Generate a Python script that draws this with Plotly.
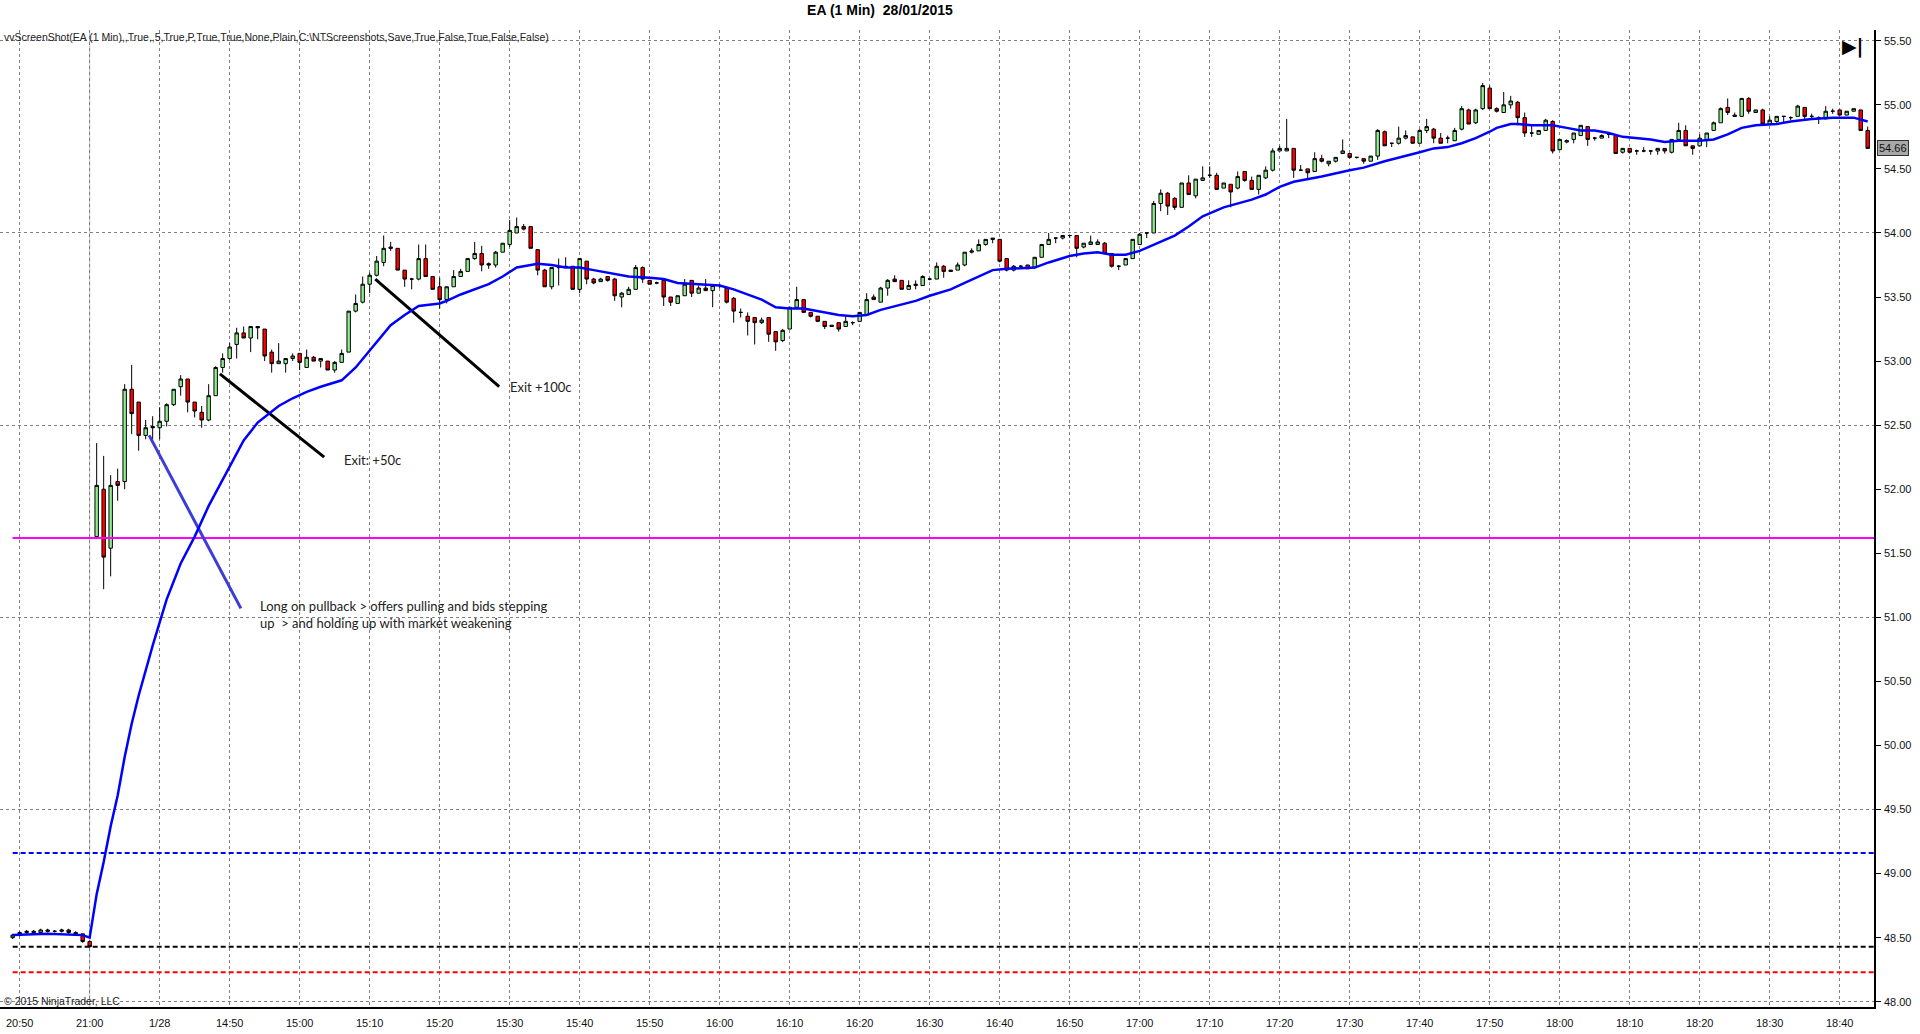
import pandas as pd
import plotly.graph_objects as go

# EA 1 min bars: tail of 27/01 session, then 28/01 from the open
bar_times = list(pd.date_range("2015-01-27 20:49", "2015-01-27 21:00", freq="min")) + \
    list(pd.date_range("2015-01-28 14:31", "2015-01-28 18:44", freq="min"))

opens = [
    48.50, 48.52, 48.54, 48.55, 48.54, 48.56, 48.55, 48.55, 48.56, 48.54, 48.53, 48.47,
    51.63, 52.00, 51.54, 52.06, 52.06, 52.78, 52.68, 52.42, 52.49, 52.48,
    52.53, 52.66, 52.80, 52.86, 52.68, 52.60, 52.54, 52.73, 52.95, 53.02,
    53.13, 53.22, 53.18, 53.27, 53.25, 53.07, 52.98, 52.98, 53.02, 53.06,
    52.95, 53.03, 53.00, 53.00, 52.93, 52.99, 53.07, 53.39, 53.46, 53.60,
    53.67, 53.77, 53.89, 53.88, 53.71, 53.64, 53.64, 53.80, 53.66, 53.58,
    53.48, 53.58, 53.66, 53.70, 53.80, 53.84, 53.76, 53.75, 53.85, 53.91,
    54.00, 54.05, 54.05, 53.87, 53.71, 53.58, 53.73, 53.73, 53.74, 53.56,
    53.78, 53.64, 53.62, 53.66, 53.64, 53.50, 53.52, 53.56, 53.73, 53.63,
    53.61, 53.63, 53.50, 53.45, 53.51, 53.63, 53.53, 53.57, 53.55, 53.59,
    53.57, 53.49, 53.38, 53.35, 53.34, 53.30, 53.34, 53.23, 53.16, 53.25,
    53.42, 53.48, 53.38, 53.35, 53.31, 53.28, 53.30, 53.27, 53.30, 53.31,
    53.36, 53.50, 53.46, 53.57, 53.64, 53.63, 53.56, 53.59, 53.59, 53.64,
    53.64, 53.74, 53.71, 53.71, 53.75, 53.85, 53.86, 53.91, 53.96, 53.95,
    53.80, 53.71, 53.74, 53.75, 53.73, 53.81, 53.91, 53.96, 53.96, 53.98,
    53.98, 53.89, 53.91, 53.91, 53.92, 53.84, 53.74, 53.75, 53.80, 53.91,
    54.00, 54.00, 54.23, 54.31, 54.27, 54.20, 54.39, 54.29, 54.41, 54.45,
    54.45, 54.35, 54.38, 54.35, 54.48, 54.41, 54.34, 54.43, 54.49, 54.64,
    54.64, 54.66, 54.49, 54.50, 54.48, 54.58, 54.54, 54.56, 54.62, 54.62,
    54.59, 54.58, 54.56, 54.60, 54.79, 54.70, 54.70, 54.74, 54.75, 54.70,
    54.80, 54.81, 54.74, 54.74, 54.72, 54.81, 54.96, 54.86, 54.97, 55.13,
    54.97, 54.94, 55.00, 55.02, 54.90, 54.78, 54.77, 54.80, 54.87, 54.65,
    54.71, 54.73, 54.76, 54.83, 54.74, 54.74, 54.77, 54.76, 54.63, 54.66,
    54.64, 54.64, 54.64, 54.64, 54.66, 54.63, 54.73, 54.80, 54.68, 54.68,
    54.73, 54.80, 54.86, 54.98, 54.92, 54.91, 55.05, 54.94, 54.96, 54.85,
    54.87, 54.91, 54.90, 54.91, 54.98, 54.91, 54.90, 54.89, 54.95, 54.96,
    54.92, 54.95, 54.96, 54.80,
]
highs = [
    48.53, 48.55, 48.56, 48.56, 48.57, 48.57, 48.56, 48.57, 48.57, 48.55, 48.53, 48.48,
    52.36, 52.26, 52.11, 52.16, 52.82, 52.97, 52.68, 52.54, 52.57, 52.64,
    52.67, 52.78, 52.89, 52.86, 52.68, 52.65, 52.82, 52.96, 53.06, 53.14,
    53.26, 53.27, 53.27, 53.27, 53.25, 53.09, 53.14, 53.02, 53.06, 53.06,
    53.09, 53.04, 53.02, 53.00, 53.00, 53.09, 53.39, 53.52, 53.66, 53.69,
    53.82, 53.98, 53.93, 53.88, 53.71, 53.65, 53.91, 53.91, 53.66, 53.65,
    53.58, 53.71, 53.72, 53.80, 53.93, 53.90, 53.77, 53.86, 53.92, 54.10,
    54.12, 54.07, 54.05, 53.87, 53.72, 53.73, 53.80, 53.81, 53.74, 53.80,
    53.78, 53.65, 53.65, 53.66, 53.65, 53.54, 53.58, 53.75, 53.74, 53.63,
    53.62, 53.63, 53.50, 53.51, 53.64, 53.63, 53.59, 53.64, 53.59, 53.60,
    53.58, 53.50, 53.41, 53.38, 53.34, 53.34, 53.34, 53.23, 53.25, 53.42,
    53.58, 53.48, 53.38, 53.35, 53.31, 53.28, 53.30, 53.35, 53.31, 53.38,
    53.53, 53.52, 53.58, 53.64, 53.67, 53.63, 53.63, 53.63, 53.67, 53.65,
    53.77, 53.75, 53.71, 53.77, 53.85, 53.88, 53.95, 53.95, 53.96, 53.95,
    53.80, 53.75, 53.75, 53.75, 53.81, 53.91, 54.00, 53.96, 53.98, 53.98,
    53.98, 53.92, 53.98, 53.95, 53.93, 53.84, 53.75, 53.80, 53.95, 54.00,
    54.00, 54.25, 54.34, 54.32, 54.28, 54.39, 54.45, 54.42, 54.52, 54.52,
    54.47, 54.39, 54.38, 54.48, 54.48, 54.44, 54.45, 54.52, 54.66, 54.68,
    54.89, 54.66, 54.53, 54.50, 54.63, 54.61, 54.56, 54.59, 54.73, 54.62,
    54.59, 54.58, 54.60, 54.81, 54.80, 54.70, 54.83, 54.80, 54.75, 54.81,
    54.89, 54.82, 54.78, 54.76, 54.82, 54.99, 54.97, 54.97, 55.17, 55.15,
    54.98, 55.10, 55.07, 55.03, 54.94, 54.85, 54.80, 54.89, 54.88, 54.73,
    54.73, 54.78, 54.84, 54.83, 54.75, 54.77, 54.77, 54.77, 54.66, 54.66,
    54.65, 54.67, 54.64, 54.66, 54.66, 54.73, 54.86, 54.84, 54.68, 54.77,
    54.78, 54.87, 54.98, 55.05, 54.94, 55.05, 55.06, 54.96, 54.97, 54.91,
    54.91, 54.91, 54.91, 55.00, 54.98, 54.93, 54.91, 54.99, 54.97, 54.96,
    54.95, 54.97, 54.96, 54.83,
]
lows = [
    48.49, 48.51, 48.53, 48.53, 48.54, 48.54, 48.54, 48.54, 48.53, 48.52, 48.46, 48.42,
    51.62, 51.22, 51.32, 51.91, 52.00, 52.43, 52.30, 52.39, 52.39, 52.39,
    52.49, 52.65, 52.73, 52.60, 52.56, 52.48, 52.53, 52.73, 52.91, 53.01,
    53.02, 53.18, 53.07, 53.17, 53.00, 52.91, 52.98, 52.91, 53.00, 52.93,
    52.95, 53.00, 52.95, 52.93, 52.91, 52.99, 53.07, 53.38, 53.45, 53.53,
    53.66, 53.74, 53.86, 53.71, 53.58, 53.56, 53.63, 53.66, 53.56, 53.41,
    53.45, 53.58, 53.66, 53.70, 53.79, 53.70, 53.72, 53.73, 53.85, 53.89,
    54.00, 54.02, 53.88, 53.67, 53.58, 53.56, 53.59, 53.73, 53.56, 53.53,
    53.60, 53.60, 53.62, 53.62, 53.47, 53.42, 53.52, 53.56, 53.61, 53.60,
    53.60, 53.43, 53.43, 53.45, 53.51, 53.50, 53.53, 53.55, 53.42, 53.57,
    53.45, 53.30, 53.34, 53.20, 53.13, 53.29, 53.15, 53.08, 53.15, 53.25,
    53.42, 53.38, 53.34, 53.31, 53.25, 53.27, 53.23, 53.27, 53.28, 53.31,
    53.36, 53.48, 53.46, 53.51, 53.62, 53.56, 53.56, 53.56, 53.59, 53.63,
    53.64, 53.65, 53.70, 53.71, 53.74, 53.84, 53.86, 53.90, 53.92, 53.77,
    53.70, 53.70, 53.72, 53.72, 53.72, 53.81, 53.91, 53.92, 53.95, 53.96,
    53.81, 53.88, 53.91, 53.91, 53.84, 53.73, 53.71, 53.75, 53.80, 53.91,
    53.96, 54.00, 54.17, 54.14, 54.18, 54.20, 54.30, 54.27, 54.41, 54.43,
    54.34, 54.35, 54.20, 54.34, 54.40, 54.34, 54.30, 54.42, 54.48, 54.64,
    54.64, 54.43, 54.49, 54.42, 54.48, 54.55, 54.52, 54.55, 54.62, 54.58,
    54.58, 54.54, 54.56, 54.57, 54.68, 54.67, 54.69, 54.73, 54.70, 54.70,
    54.78, 54.70, 54.70, 54.70, 54.72, 54.80, 54.85, 54.85, 54.96, 54.97,
    54.94, 54.94, 54.97, 54.84, 54.75, 54.75, 54.77, 54.80, 54.62, 54.65,
    54.70, 54.70, 54.76, 54.68, 54.72, 54.74, 54.74, 54.62, 54.62, 54.62,
    54.61, 54.63, 54.61, 54.61, 54.62, 54.62, 54.73, 54.68, 54.61, 54.68,
    54.67, 54.80, 54.86, 54.92, 54.91, 54.91, 54.93, 54.94, 54.85, 54.85,
    54.86, 54.86, 54.88, 54.91, 54.88, 54.89, 54.85, 54.89, 54.93, 54.92,
    54.92, 54.95, 54.80, 54.66,
]
closes = [
    48.52, 48.54, 48.55, 48.54, 48.56, 48.55, 48.55, 48.56, 48.54, 48.53, 48.47, 48.43,
    52.03, 51.47, 52.03, 52.03, 52.78, 52.59, 52.42, 52.48, 52.48, 52.53,
    52.66, 52.78, 52.86, 52.68, 52.61, 52.54, 52.73, 52.95, 53.02, 53.11,
    53.22, 53.18, 53.27, 53.26, 53.04, 52.98, 53.00, 53.02, 53.04, 52.99,
    53.03, 53.00, 53.02, 52.93, 52.99, 53.06, 53.39, 53.45, 53.60, 53.67,
    53.78, 53.88, 53.88, 53.71, 53.64, 53.64, 53.80, 53.66, 53.56, 53.48,
    53.58, 53.66, 53.70, 53.80, 53.84, 53.75, 53.75, 53.85, 53.92, 54.02,
    54.05, 54.03, 53.88, 53.71, 53.58, 53.73, 53.73, 53.74, 53.56, 53.80,
    53.64, 53.61, 53.64, 53.63, 53.51, 53.53, 53.56, 53.73, 53.64, 53.60,
    53.61, 53.50, 53.46, 53.51, 53.60, 53.53, 53.57, 53.55, 53.59, 53.59,
    53.46, 53.39, 53.38, 53.31, 53.30, 53.32, 53.21, 53.15, 53.24, 53.42,
    53.48, 53.38, 53.35, 53.31, 53.27, 53.27, 53.25, 53.31, 53.30, 53.38,
    53.48, 53.48, 53.57, 53.63, 53.62, 53.56, 53.59, 53.60, 53.66, 53.64,
    53.74, 53.70, 53.70, 53.75, 53.85, 53.86, 53.91, 53.95, 53.95, 53.78,
    53.71, 53.74, 53.74, 53.72, 53.81, 53.91, 53.95, 53.96, 53.98, 53.98,
    53.88, 53.92, 53.93, 53.93, 53.84, 53.74, 53.74, 53.80, 53.95, 53.99,
    54.00, 54.23, 54.31, 54.21, 54.20, 54.39, 54.30, 54.42, 54.43, 54.45,
    54.34, 54.39, 54.32, 54.44, 54.41, 54.34, 54.45, 54.49, 54.64, 54.66,
    54.66, 54.49, 54.49, 54.47, 54.58, 54.56, 54.56, 54.59, 54.64, 54.59,
    54.59, 54.56, 54.60, 54.80, 54.68, 54.70, 54.74, 54.76, 54.70, 54.80,
    54.83, 54.74, 54.70, 54.74, 54.80, 54.97, 54.85, 54.96, 55.15, 54.97,
    54.95, 55.00, 55.03, 54.90, 54.78, 54.78, 54.80, 54.88, 54.64, 54.73,
    54.72, 54.78, 54.84, 54.73, 54.74, 54.76, 54.77, 54.62, 54.66, 54.63,
    54.64, 54.64, 54.64, 54.66, 54.64, 54.73, 54.80, 54.68, 54.66, 54.74,
    54.78, 54.86, 54.97, 54.94, 54.91, 55.05, 54.95, 54.96, 54.85, 54.88,
    54.91, 54.91, 54.90, 54.99, 54.91, 54.91, 54.90, 54.95, 54.95, 54.92,
    54.95, 54.97, 54.80, 54.66,
]

# moving average line (bar number, value)
ma_bar = [0, 5, 10, 11, 12, 13, 14, 15, 16, 17, 18, 19, 20, 21, 22, 24, 26, 28, 31, 33,
          35, 38, 40, 42, 44, 47, 49, 51, 54, 56, 58, 61, 62, 64, 66, 68, 70, 72, 75, 77,
          79, 81, 83, 85, 88, 91, 93, 95, 98, 101, 103, 105, 107, 109, 111, 113, 116, 118, 120, 122,
          124, 126, 129, 131, 134, 136, 138, 140, 142, 146, 148, 151, 153, 155, 157, 159, 161, 163, 166, 168,
          170, 173, 175, 177, 179, 181, 183, 185, 187, 191, 193, 196, 199, 201, 203, 205, 207, 209, 211, 212,
          214, 215, 217, 220, 222, 224, 226, 228, 230, 232, 234, 236, 238, 241, 243, 245, 247, 249, 252, 254,
          257, 260, 263, 265]
ma_value = [48.52, 48.53, 48.52, 48.50, 48.84, 49.09, 49.37, 49.61, 49.91, 50.17, 50.39, 50.59, 50.78, 50.96, 51.14, 51.42, 51.63, 51.87, 52.18, 52.38,
            52.52, 52.65, 52.71, 52.76, 52.80, 52.85, 52.95, 53.08, 53.28, 53.36, 53.43, 53.45, 53.47, 53.52, 53.56, 53.60, 53.66, 53.73, 53.76, 53.75,
            53.73, 53.73, 53.71, 53.69, 53.66, 53.65, 53.64, 53.61, 53.60, 53.59, 53.56, 53.52, 53.48, 53.42, 53.41, 53.41, 53.38, 53.36, 53.35, 53.36,
            53.40, 53.43, 53.47, 53.51, 53.56, 53.61, 53.66, 53.71, 53.72, 53.73, 53.77, 53.82, 53.84, 53.85, 53.83, 53.83, 53.86, 53.91, 53.98, 54.05,
            54.13, 54.20, 54.23, 54.26, 54.30, 54.36, 54.40, 54.42, 54.44, 54.49, 54.51, 54.56, 54.60, 54.63, 54.66, 54.67, 54.70, 54.74, 54.79, 54.82,
            54.85, 54.85, 54.84, 54.84, 54.82, 54.80, 54.80, 54.78, 54.75, 54.74, 54.73, 54.71, 54.72, 54.72, 54.73, 54.77, 54.82, 54.84, 54.85, 54.87,
            54.89, 54.90, 54.90, 54.87]

tick_stamps = ["2015-01-27 20:50", "2015-01-27 21:00", "2015-01-28 14:40", "2015-01-28 14:50",
               "2015-01-28 15:00", "2015-01-28 15:10", "2015-01-28 15:20", "2015-01-28 15:30",
               "2015-01-28 15:40", "2015-01-28 15:50", "2015-01-28 16:00", "2015-01-28 16:10",
               "2015-01-28 16:20", "2015-01-28 16:30", "2015-01-28 16:40", "2015-01-28 16:50",
               "2015-01-28 17:00", "2015-01-28 17:10", "2015-01-28 17:20", "2015-01-28 17:30",
               "2015-01-28 17:40", "2015-01-28 17:50", "2015-01-28 18:00", "2015-01-28 18:10",
               "2015-01-28 18:20", "2015-01-28 18:30", "2015-01-28 18:40"]
tick_labels = ["20:50", "21:00", "1/28", "14:50", "15:00", "15:10", "15:20", "15:30", "15:40",
               "15:50", "16:00", "16:10", "16:20", "16:30", "16:40", "16:50", "17:00", "17:10",
               "17:20", "17:30", "17:40", "17:50", "18:00", "18:10", "18:20", "18:30", "18:40"]

# horizontal price levels drawn on the chart
level_values = [51.62, 49.16, 48.43, 48.23]
level_colors = ["#FF00FF", "#0000FF", "#000000", "#FF0000"]
level_dash = ["solid", "5px,3px", "5px,3px", "5px,3px"]

bar_x = list(range(len(bar_times)))
tick_x = [bar_times.index(pd.Timestamp(s)) for s in tick_stamps]
session_break = bar_times.index(pd.Timestamp("2015-01-27 21:00"))

x_range = [-1.81, 265.9]
y_range = [47.959, 55.584]

font_axis = dict(family="Liberation Sans", size=11, color="#111111")
font_note = dict(family="Lato", size=13, color="#222222")

fig = go.Figure()

fig.add_trace(go.Candlestick(
    x=bar_x, open=opens, high=highs, low=lows, close=closes,
    increasing=dict(fillcolor="#90EE90", line=dict(color="black", width=1)),
    decreasing=dict(fillcolor="#FF0000", line=dict(color="black", width=1)),
    whiskerwidth=0, hoverinfo="skip"))

for val, col, dash in zip(level_values, level_colors, level_dash):
    fig.add_trace(go.Scatter(x=[bar_x[0], x_range[1]], y=[val, val], mode="lines",
                             line=dict(color=col, width=2, dash=dash), hoverinfo="skip"))

# trade notes drawn by hand: (bar, price) -> (bar, price)
drawn = [
    ((29.6, 52.90), (44.5, 52.25), "#000000"),
    ((51.8, 53.64), (69.5, 52.80), "#000000"),
    ((19.5, 52.42), (32.6, 51.07), "#3c3cd8"),
]
for (xa, ya), (xb, yb), col in drawn:
    fig.add_trace(go.Scatter(x=[xa, xb], y=[ya, yb], mode="lines",
                             line=dict(color=col, width=3), hoverinfo="skip"))

fig.add_trace(go.Scatter(x=ma_bar, y=ma_value, mode="lines", yaxis="y2",
                         line=dict(color="#0000FF", width=2.5), hoverinfo="skip"))

notes = [
    (47.0, 52.23, "Exit: +50c"),
    (70.8, 52.80, "Exit +100c"),
    (35.1, 51.02, "Long on pullback > offers pulling and bids stepping<br>up  > and holding up with market weakening"),
]
for nx, ny, txt in notes:
    fig.add_annotation(x=nx, y=ny, text=txt, showarrow=False, xanchor="left",
                       yanchor="middle", align="left", font=font_note)

fig.add_shape(type="line", x0=session_break, x1=session_break, y0=0, y1=1,
              xref="x", yref="paper", line=dict(color="#C0C0C0", width=1), layer="below")

fig.add_annotation(x=0.001, y=0.9928, xref="paper", yref="paper", xanchor="left", yanchor="middle",
                   showarrow=False, text="vvScreenShot(EA (1 Min),,True,,5,True,P,True,True,None,Plain,C:\\NTScreenshots,Save,True,False,True,False,False)",
                   font=dict(family="Liberation Sans", size=10.5, color="#222222"))
fig.add_annotation(x=0.001, y=0.006, xref="paper", yref="paper", xanchor="left", yanchor="middle",
                   showarrow=False, text="© 2015 NinjaTrader, LLC",
                   font=dict(family="Liberation Sans", size=10.5, color="#222222"))
fig.add_annotation(x=1, y=closes[-1], xref="paper", yref="y", xanchor="left", yanchor="middle",
                   xshift=3, showarrow=False, text=f"{closes[-1]:.2f}",
                   bgcolor="#A8A8A8", bordercolor="#303030", borderwidth=1, borderpad=1,
                   font=dict(family="Liberation Sans", size=11, color="#111111"))
fig.add_annotation(x=0.9888, y=0.9836, xref="paper", yref="paper", xanchor="center", yanchor="middle",
                   showarrow=False, text="<b>▶|</b>",
                   font=dict(family="DejaVu Sans", size=19, color="black"))

fig.update_layout(
    width=1920, height=1034,
    margin=dict(l=0, r=46, t=30, b=27),
    paper_bgcolor="white", plot_bgcolor="white",
    showlegend=False,
    title=dict(text="<b>EA (1 Min)  28/01/2015</b>", x=880 / 1920, xanchor="center",
               y=1 - 10 / 1034, yanchor="middle",
               font=dict(family="Liberation Sans", size=14, color="black")),
    xaxis=dict(range=x_range, tickmode="array", tickvals=tick_x, ticktext=tick_labels,
               showgrid=True, gridcolor="#808080", gridwidth=1, griddash="dot",
               showline=True, linecolor="black", linewidth=2, ticks="",
               ticklabelstandoff=5, tickfont=font_axis, zeroline=False,
               rangeslider=dict(visible=False)),
    yaxis=dict(range=y_range, side="right", tick0=48, dtick=0.5, tickformat=".2f",
               showgrid=False, showline=True, linecolor="black", linewidth=1.5,
               ticks="outside", ticklen=5, tickcolor="black", tickfont=font_axis,
               ticklabelstandoff=1, zeroline=False),
    yaxis2=dict(range=y_range, overlaying="y", side="right", tick0=48, dtick=1.5,
                showgrid=True, gridcolor="#808080", gridwidth=1, griddash="dot",
                showticklabels=False, ticks="", showline=False, zeroline=False),
)

fig.write_html("out.html", config={"displayModeBar": False},
               post_script="document.body.style.margin='0';document.body.style.overflow='hidden';")
